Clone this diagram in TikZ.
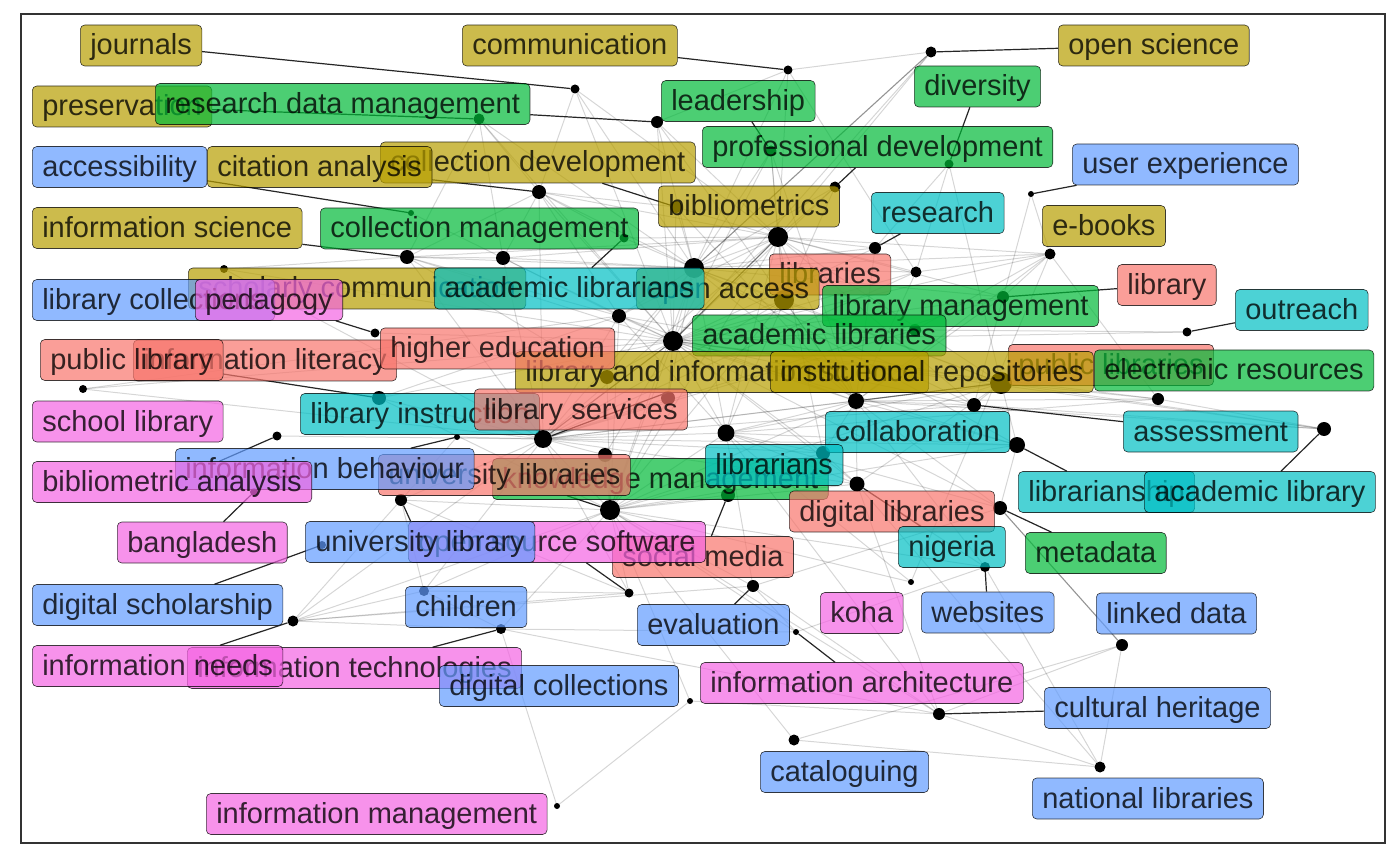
\documentclass[tikz,border=0pt]{standalone}
\usepackage{fontspec}
\setmainfont{Liberation Sans}
\definecolor{cRed}{HTML}{F8766D}
\definecolor{cGold}{HTML}{B79F00}
\definecolor{cGreen}{HTML}{00BA38}
\definecolor{cCyan}{HTML}{00BFC4}
\definecolor{cBlue}{HTML}{619CFF}
\definecolor{cPink}{HTML}{F564E3}
\pgfdeclarelayer{paper}
\pgfdeclarelayer{edges}
\pgfdeclarelayer{dots}
\pgfdeclarelayer{segs}
\pgfsetlayers{paper,edges,dots,segs,main}
\tikzset{
  lbl/.style={draw=black, draw opacity=0.75, line width=0.6pt, rounded corners=4.5pt,
    fill opacity=0.7, text opacity=0.78, text=black,
    font=\fontsize{29}{30}\selectfont, inner xsep=10pt, inner ysep=7pt,
    text height=23pt, text depth=4pt, anchor=west},
  kRed/.style={lbl, fill=cRed},
  kGold/.style={lbl, fill=cGold},
  kGreen/.style={lbl, fill=cGreen},
  kCyan/.style={lbl, fill=cCyan},
  kBlue/.style={lbl, fill=cBlue},
  kPink/.style={lbl, fill=cPink},
  dot/.style={circle, fill=black, inner sep=0pt, minimum size=#1},
  web/.style={draw=black, draw opacity=0.16, line width=1pt},
  webdark/.style={draw=black, draw opacity=0.42, line width=1.1pt},
  seg/.style={draw=black!85, line width=1.2pt},
  frame/.style={draw=black!80, line width=1.2pt}
}
\begin{document}
\begin{tikzpicture}[x=1pt,y=-1pt]
\useasboundingbox (0,0) rectangle (1400,866);
\begin{pgfonlayer}{paper}
\fill[white] (0,0) rectangle (1400,866);
\draw[frame] (21,14) rectangle (1385,843);
\end{pgfonlayer}

% keyword nodes (dot size = frequency)
\begin{pgfonlayer}{dots}
\foreach \n/\x/\y/\d in {
 a1/575/89/9, a2/788/70/9, a3/931/52/11, a4/657/122/12, a5/479/119/11,
 a6/771/151/11, a7/949/164/9, a8/539/192/14, a9/411/213/6, a10/676/207/12,
 a11/835/187/11, a12/1031/194/6, a13/407/257/14, a14/503/258/14, a15/624/238/9,
 a16/778/237/20, a17/875/248/12, a18/694/268/20, a19/1050/254/11, a20/916/272/11,
 a21/224/269/8, a22/1003/297/12, a23/784/300/20, a24/619/316/14, a25/673/341/20,
 a26/375/333/9, a27/915/330/12, a28/1187/332/9, a29/83/389/8, a30/379/398/14,
 a31/1001/383/22, a32/856/401/16, a33/974/405/14, a34/1158/399/12, a35/607/377/14,
 a36/543/439/18, a37/726/433/17, a38/457/437/6, a39/277/436/9, a40/605/455/14,
 a41/668/398/14, a42/1017/445/16, a43/1324/429/14, a44/823/453/14, a45/401/500/12,
 a46/610/510/20, a47/728/495/14, a48/857/484/15, a49/1000/508/14, a50/254/492/8,
 a51/322/545/8, a52/985/567/10, a53/911/582/6, a54/629/593/9, a55/753/586/12,
 a56/424/591/10, a57/293/621/11, a58/501/629/10, a59/796/632/6, a60/1122/645/12,
 a61/690/701/6, a62/939/714/12, a63/794/740/11, a64/1100/767/11, a65/557/806/6}
 { \node[dot=\d] (\n) at (\x,\y) {}; }
\end{pgfonlayer}

% co-occurrence web
\begin{pgfonlayer}{edges}
\foreach \u/\v in {
 a1/a8, a1/a18, a1/a16, a1/a25, a2/a16, a2/a18, a2/a4, a2/a20, a2/a3,
 a3/a16, a3/a25, a4/a16, a4/a18, a4/a25, a4/a32, a5/a8, a5/a13, a5/a14,
 a5/a18, a5/a25, a6/a16, a6/a18, a6/a23, a6/a25, a6/a32, a7/a17, a7/a20,
 a7/a31, a8/a13, a8/a14, a8/a15, a8/a16, a8/a18, a8/a24, a8/a25, a8/a36,
 a8/a10, a9/a14, a10/a16, a10/a18, a10/a25, a10/a32, a11/a16, a11/a25,
 a11/a37, a11/a18, a12/a19, a12/a33, a13/a14, a13/a18, a13/a16, a13/a25,
 a13/a24, a13/a36, a13/a35, a14/a18, a14/a16, a14/a25, a14/a24, a14/a36,
 a15/a16, a15/a18, a16/a18, a16/a25, a16/a32, a16/a36, a16/a46, a16/a37,
 a16/a31, a16/a17, a16/a20, a16/a22, a16/a23, a16/a24, a16/a33, a16/a19,
 a16/a44, a17/a18, a17/a25, a17/a32, a18/a25, a18/a32, a18/a36, a18/a46,
 a18/a37, a18/a31, a18/a23, a18/a24, a18/a35, a18/a41, a18/a20, a18/a22,
 a18/a42, a18/a33, a19/a25, a19/a32, a19/a22, a19/a20, a19/a34, a19/a27,
 a19/a18, a19/a53, a20/a25, a20/a36, a20/a32, a21/a13, a21/a25, a21/a36,
 a21/a18, a22/a25, a22/a32, a22/a36, a23/a25, a23/a36, a23/a46, a23/a32,
 a23/a31, a24/a25, a24/a36, a24/a46, a24/a32, a24/a31, a24/a37, a25/a31,
 a25/a32, a25/a36, a25/a37, a25/a46, a25/a33, a25/a42, a25/a44, a25/a48,
 a25/a49, a25/a30, a25/a29, a25/a26, a25/a35, a25/a41, a25/a27, a25/a34,
 a25/a43, a28/a27, a28/a25, a29/a24, a29/a36, a30/a36, a30/a24, a30/a46,
 a31/a32, a31/a36, a31/a37, a31/a46, a31/a33, a31/a42, a31/a34, a31/a43,
 a31/a48, a32/a36, a32/a37, a32/a46, a32/a33, a32/a42, a32/a44, a32/a48,
 a32/a49, a32/a52, a32/a43, a32/a34, a33/a36, a33/a43, a34/a37, a36/a37,
 a36/a46, a36/a44, a36/a45, a36/a38, a36/a39, a36/a40, a36/a41, a36/a42,
 a36/a48, a36/a54, a36/a56, a36/a57, a37/a46, a37/a44, a37/a48, a37/a49,
 a37/a55, a37/a42, a37/a62, a42/a46, a42/a49, a43/a34, a45/a46, a45/a56,
 a45/a54, a45/a57, a45/a38, a46/a48, a46/a47, a46/a54, a46/a55, a46/a56,
 a46/a57, a46/a58, a46/a61, a46/a62, a46/a63, a46/a44, a46/a52, a46/a59,
 a48/a52, a48/a62, a48/a64, a49/a55, a52/a64, a52/a59, a53/a46, a53/a37,
 a55/a57, a55/a62, a55/a59, a56/a57, a56/a58, a56/a54, a57/a58, a57/a54,
 a58/a59, a58/a65, a58/a62, a60/a62, a60/a63, a60/a64, a61/a65, a61/a62,
 a62/a64, a63/a64, a40/a46, a40/a25, a41/a46, a35/a46, a27/a36, a44/a48}
 { \draw[web] (\u) -- (\v); }
\draw[webdark] (a3) -- (a18);
\draw[webdark] (a49) -- (a60);
\draw[webdark] (a16) -- (a25);
\draw[webdark] (a25) -- (a36);
\draw[webdark] (a31) -- (a32);
\end{pgfonlayer}

% keyword labels
\node[kGold]  (preservation) at (32,106.5) {preservation};
\node[kGreen] (rdm) at (155,104) {research data management};
\node[kGold]  (journals) at (80,45.5) {journals};
\node[kGold]  (communication) at (462,45.5) {communication};
\node[kGold]  (opensci) at (1058,45.5) {open science};
\node[kGreen] (leadership) at (661,101) {leadership};
\node[kGreen] (diversity) at (914,86.5) {diversity};
\node[kGreen] (profdev) at (702,147) {professional development};
\node[kGold]  (colldev) at (380,162.5) {collection development};
\node[kBlue]  (accessibility) at (32,167) {accessibility};
\node[kGold]  (citation) at (207,167) {citation analysis};
\node[kBlue]  (userexp) at (1072,164.5) {user experience};
\node[kGold]  (bibliometrics) at (658,206.5) {bibliometrics};
\node[kCyan]  (research) at (871,213) {research};
\node[kGold]  (ebooks) at (1042,226) {e-books};
\node[kGold]  (infosci) at (32,228) {information science};
\node[kGreen] (collmgmt) at (320,228.5) {collection management};
\node[kGold]  (scholcomm) at (188,288.5) {scholarly communication};
\node[kBlue]  (libcoll) at (32,300) {library collections};
\node[kPink]  (pedagogy) at (195,300) {pedagogy};
\node[kRed]   (libraries) at (769,274.5) {libraries};
\node[kGold]  (openaccess) at (636,289) {open access};
\node[kCyan]  (acadlibrarians) at (434,288.5) {academic librarians};
\node[kRed]   (library) at (1117,285) {library};
\node[kGreen] (libmgmt) at (822,306) {library management};
\node[kCyan]  (outreach) at (1235,310) {outreach};
\node[kGreen] (acadlibraries) at (692,335.5) {academic libraries};
\node[kRed]   (infolit) at (133,360.5) {information literacy};
\node[kRed]   (publiclibrary) at (40,360) {public library};
\node[kGold]  (lis) at (515,372) {library and information science};
\node[kRed]   (higher) at (380,348.5) {higher education};
\node[kRed]   (publiclibraries) at (1008,365) {public libraries};
\node[kGold]  (instrepo) at (770,372) {institutional repositories};
\node[kGreen] (eresources) at (1094,370.5) {electronic resources};
\node[kCyan]  (libinstr) at (300,414) {library instruction};
\node[kRed]   (libservices) at (474,409.5) {library services};
\node[kPink]  (schoollib) at (32,421.5) {school library};
\node[kCyan]  (collab) at (825,432) {collaboration};
\node[kCyan]  (assessment) at (1123,431.5) {assessment};
\node[kGreen] (knowmgmt) at (492,479) {knowledge management};
\node[kRed]   (univlibraries) at (378,475) {university libraries};
\node[kBlue]  (infobehav) at (175,469) {information behaviour};
\node[kPink]  (bibanalysis) at (32,482) {bibliometric analysis};
\node[kCyan]  (librarians) at (705,465) {librarians};
\node[kRed]   (digilibs) at (789,511.5) {digital libraries};
\node[kCyan]  (librarianship) at (1018,492) {librarianship};
\node[kCyan]  (acadlibrary) at (1144,492) {academic library};
\node[kCyan]  (nigeria) at (898,547) {nigeria};
\node[kGreen] (metadata) at (1025,553) {metadata};
\node[kPink]  (bangladesh) at (117,542.5) {bangladesh};
\node[kRed]   (socialmedia) at (612,557) {social media};
\node[kPink]  (oss) at (408,542) {open source software};
\node[kBlue]  (univlibrary) at (305,542) {university library};
\node[kBlue]  (digischol) at (32,605) {digital scholarship};
\node[kBlue]  (children) at (405,607) {children};
\node[kPink]  (koha) at (820,613) {koha};
\node[kBlue]  (websites) at (921,612.5) {websites};
\node[kBlue]  (linkeddata) at (1096,613.5) {linked data};
\node[kBlue]  (evaluation) at (637,625) {evaluation};
\node[kPink]  (infotech) at (187,668) {information technologies};
\node[kPink]  (infoneeds) at (32,666) {information needs};
\node[kBlue]  (digicoll) at (439,686) {digital collections};
\node[kPink]  (infoarch) at (700,683) {information architecture};
\node[kBlue]  (culther) at (1044,708) {cultural heritage};
\node[kBlue]  (cataloguing) at (760,772) {cataloguing};
\node[kBlue]  (natlibs) at (1032,798.5) {national libraries};
\node[kPink]  (infomgmt) at (206,814) {information management};

% leader lines from labels to their keyword dots
\begin{pgfonlayer}{segs}
\foreach \l/\p in {
 journals/a1, communication/a2, opensci/a3, rdm/a4, preservation/a5,
 leadership/a6, diversity/a7, citation/a8, accessibility/a9, colldev/a10,
 profdev/a11, userexp/a12, infosci/a13, acadlibrarians/a15, research/a17,
 pedagogy/a26, library/a22, outreach/a28, publiclibrary/a30, lis/a36,
 infobehav/a38, bibanalysis/a39, univlibraries/a46, assessment/a33,
 librarianship/a42, acadlibrary/a43, socialmedia/a47, bangladesh/a50,
 univlibrary/a45, digischol/a51, metadata/a49, nigeria/a48, websites/a52,
 oss/a54, evaluation/a55, infoneeds/a57, infotech/a58, infoarch/a59,
 culther/a62}
 { \draw[seg] (\l) -- (\p); }
\end{pgfonlayer}
\end{tikzpicture}
\end{document}
